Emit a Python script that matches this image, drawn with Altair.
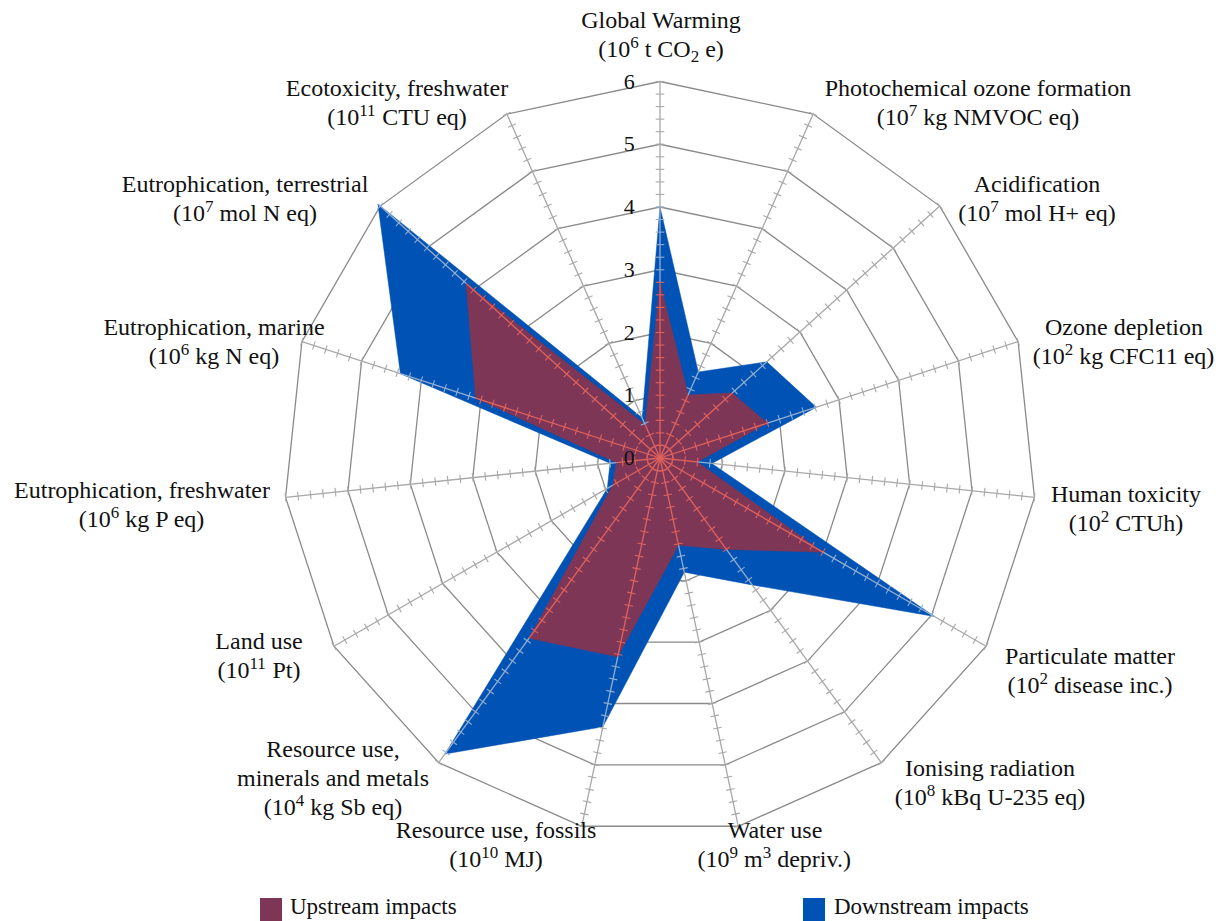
import re
import altair as alt
import pandas as pd

# ---------------- data ----------------
categories = [
    "Global Warming", "Photochemical ozone formation", "Acidification",
    "Ozone depletion", "Human toxicity", "Particulate matter",
    "Ionising radiation", "Water use", "Resource use, fossils",
    "Resource use,\nminerals and metals", "Land use",
    "Eutrophication, freshwater", "Eutrophication, marine",
    "Eutrophication, terrestrial", "Ecotoxicity, freshwater",
]
# ^{..} = superscript, _{..} = subscript
units = [
    "(10^{6} t CO_{2} e)", "(10^{7} kg NMVOC eq)", "(10^{7} mol H+ eq)",
    "(10^{2} kg CFC11 eq)", "(10^{2} CTUh)", "(10^{2} disease inc.)",
    "(10^{8} kBq U-235 eq)", "(10^{9} m^{3} depriv.)", "(10^{10} MJ)",
    "(10^{4} kg Sb eq)", "(10^{11} Pt)", "(10^{6} kg P eq)", "(10^{6} kg N eq)",
    "(10^{7} mol N eq)", "(10^{11} CTU eq)",
]
upstream = [2.8, 1.1, 1.55, 1.8, 0.6, 3.0, 1.8, 1.42, 3.24, 3.55, 0.87, 0.7, 3.09, 4.16, 0.58]
downstream = [4.0, 1.5, 2.29, 2.62, 0.83, 5.05, 2.5, 1.86, 4.38, 5.83, 0.97, 0.8, 4.35, 6.05, 0.7]
ring_values = [1, 2, 3, 4, 5, 6]
tick_labels = ["0", "1", "2", "3", "4", "5", "6"]
series_names = ["Upstream impacts", "Downstream impacts"]

# ---------------- layout ----------------
W, H = 1223, 921
CX, CY = 660, 458          # pixel centre of the radar
S = 62.75                  # pixels per unit
AXIS_MAX = 6
MINOR = 0.2
TICK_HALF = 4.3 / S
LINE_H = 29
FS = 24                    # label font size
FS_SMALL = 17              # super/subscript size
N = len(categories)
idx = list(range(N))

xdom = [(0 - CX) / S, (W - CX) / S]
ydom = [(CY - H) / S, (CY - 0) / S]
XS = alt.Scale(domain=xdom, nice=False, zero=False)
YS = alt.Scale(domain=ydom, nice=False, zero=False)

# label block centres (pixels) - layout only
label_px = [
    (661, 34), (978, 102), (1037, 198), (1124, 341), (1126, 508),
    (1090, 670), (990, 782), (775, 844), (496, 844), (333, 778),
    (259, 655), (142, 504), (214, 341), (245, 198), (397, 102),
]

MAROON = "#7e3657"
BLUE = "#0052b4"
SERIF = "Liberation Serif"

ANG = "datum.i * 2 * PI / %d" % N

# Times / Liberation Serif advance widths (1/1000 em)
TW = {' ': 250, '(': 333, ')': 333, '+': 564, '-': 333, '.': 250,
      'B': 667, 'C': 667, 'F': 556, 'H': 722, 'J': 389, 'M': 889, 'N': 722,
      'O': 722, 'P': 556, 'S': 556, 'T': 611, 'U': 722, 'V': 722,
      'a': 444, 'b': 500, 'c': 444, 'd': 500, 'e': 444, 'g': 500, 'h': 500,
      'i': 278, 'k': 500, 'l': 278, 'm': 778, 'n': 500, 'o': 500, 'p': 500,
      'q': 500, 'r': 333, 's': 389, 't': 278, 'u': 500, 'v': 500}


def text_w(s, size):
    return sum(TW.get(ch, 500) for ch in s) * size / 1000.0


def segments(s):
    out = []
    pos = 0
    for m in re.finditer(r"([\^_])\{([^}]*)\}", s):
        if m.start() > pos:
            out.append((s[pos:m.start()], "n"))
        out.append((m.group(2), "sup" if m.group(1) == "^" else "sub"))
        pos = m.end()
    if pos < len(s):
        out.append((s[pos:], "n"))
    return out

# ---------------- tables ----------------
poly_df = pd.DataFrame({
    "i": idx * 2,
    "v": upstream + downstream,
    "series": ["up"] * N + ["down"] * N,
})

ring_df = pd.DataFrame([(r, i) for r in ring_values for i in idx], columns=["ring", "i"])

seg_rows = []
for i in idx:
    seg_rows.append((i, 0.0, upstream[i], "up"))
    seg_rows.append((i, upstream[i], downstream[i], "down"))
    seg_rows.append((i, min(downstream[i], AXIS_MAX), AXIS_MAX, "out"))
seg_df = pd.DataFrame(seg_rows, columns=["i", "r0", "r1", "zone"])

tick_rows = []
nt = int(round(AXIS_MAX / MINOR))
for i in idx:
    for k in range(1, nt + 1):
        r = k * MINOR
        if r <= upstream[i] + 1e-9:
            z = "up"
        elif r <= downstream[i] + 1e-9:
            z = "down"
        else:
            z = "out"
        tick_rows.append((i, r, z))
tick_df = pd.DataFrame(tick_rows, columns=["i", "r", "zone"])

zone_scale = alt.Scale(domain=["up", "down", "out"], range=["#e0625c", "#93aed0", "#a8a8a8"])

num_df = pd.DataFrame({"v": list(range(len(tick_labels))), "t": tick_labels})

# label rows: category lines centred; unit lines split into segments
cat_rows, unit_rows = [], []
for cat, unit, (cx, cy) in zip(categories, units, label_px):
    lines = cat.split("\n")
    n = len(lines) + 1
    for k in range(n):
        base = cy + (k - (n - 1) / 2) * LINE_H + 8
        if k < len(lines):
            cat_rows.append({"txt": lines[k], "x": (cx - CX) / S, "y": (CY - base) / S})
        else:
            segs = segments(unit)
            widths = [text_w(t, FS if kind == "n" else FS_SMALL) for t, kind in segs]
            x0 = cx - sum(widths) / 2
            for (t, kind), w in zip(segs, widths):
                if kind == "n":
                    b, fs = base, FS
                elif kind == "sup":
                    b, fs = base - 9, FS_SMALL
                else:
                    b, fs = base + 5, FS_SMALL
                lead = len(t) - len(t.lstrip(" "))
                shown = t.strip(" ")
                xs = x0 + text_w(" " * lead, fs)
                if shown:
                    unit_rows.append({"txt": shown, "x": (xs - CX) / S,
                                      "y": (CY - b) / S, "fs": fs})
                x0 += w
cat_df = pd.DataFrame(cat_rows)
unit_df = pd.DataFrame(unit_rows)

# ---------------- layers ----------------
rings = alt.Chart(ring_df).transform_calculate(
    x="datum.ring * sin(%s)" % ANG, y="datum.ring * cos(%s)" % ANG
).mark_line(interpolate="linear-closed", stroke="#8a8a8a", strokeWidth=1.3).encode(
    x=alt.X("x:Q", scale=XS, axis=None),
    y=alt.Y("y:Q", scale=YS, axis=None),
    detail="ring:N",
    order="i:Q",
)


def polygon(series, color):
    return alt.Chart(poly_df).transform_filter(
        alt.datum.series == series
    ).transform_calculate(
        x="datum.v * sin(%s)" % ANG, y="datum.v * cos(%s)" % ANG
    ).mark_line(interpolate="linear-closed", fill=color, fillOpacity=1,
                stroke=color, strokeWidth=0.5).encode(
        x=alt.X("x:Q", scale=XS, axis=None),
        y=alt.Y("y:Q", scale=YS, axis=None),
        order="i:Q",
    )


blue_poly = polygon("down", BLUE)
maroon_poly = polygon("up", MAROON)

spokes = alt.Chart(seg_df).transform_calculate(
    x="datum.r0 * sin(%s)" % ANG, y="datum.r0 * cos(%s)" % ANG,
    x2="datum.r1 * sin(%s)" % ANG, y2="datum.r1 * cos(%s)" % ANG,
).mark_rule(strokeWidth=1.3).encode(
    x=alt.X("x:Q", scale=XS, axis=None),
    y=alt.Y("y:Q", scale=YS, axis=None),
    x2="x2:Q", y2="y2:Q",
    color=alt.Color("zone:N", scale=zone_scale, legend=None),
)

ticks = alt.Chart(tick_df).transform_calculate(
    a=ANG
).transform_calculate(
    x="datum.r * sin(datum.a) + %f * cos(datum.a)" % TICK_HALF,
    y="datum.r * cos(datum.a) - %f * sin(datum.a)" % TICK_HALF,
    x2="datum.r * sin(datum.a) - %f * cos(datum.a)" % TICK_HALF,
    y2="datum.r * cos(datum.a) + %f * sin(datum.a)" % TICK_HALF,
).mark_rule(strokeWidth=1.1).encode(
    x=alt.X("x:Q", scale=XS, axis=None),
    y=alt.Y("y:Q", scale=YS, axis=None),
    x2="x2:Q", y2="y2:Q",
    color=alt.Color("zone:N", scale=zone_scale, legend=None),
)

numbers = alt.Chart(num_df).transform_calculate(
    x="-0.49"
).mark_text(font=SERIF, fontSize=22, align="center", baseline="middle", color="#111111").encode(
    x=alt.X("x:Q", scale=XS, axis=None),
    y=alt.Y("v:Q", scale=YS, axis=None),
    text="t:N",
)

cat_labels = alt.Chart(cat_df).mark_text(
    font=SERIF, fontSize=FS, align="center", baseline="alphabetic", color="#111111"
).encode(
    x=alt.X("x:Q", scale=XS, axis=None),
    y=alt.Y("y:Q", scale=YS, axis=None),
    text="txt:N",
)

unit_labels = alt.Chart(unit_df).mark_text(
    font=SERIF, align="left", baseline="alphabetic", color="#111111"
).encode(
    x=alt.X("x:Q", scale=XS, axis=None),
    y=alt.Y("y:Q", scale=YS, axis=None),
    size=alt.Size("fs:Q", scale=None, legend=None),
    text="txt:N",
)

# legend (manual, bottom)
leg_sq_up = alt.Chart(num_df.head(1)).mark_rect(color=MAROON).encode(
    x=alt.value(260), x2=alt.value(282), y=alt.value(898), y2=alt.value(921))
leg_sq_down = alt.Chart(num_df.head(1)).mark_rect(color=BLUE).encode(
    x=alt.value(803), x2=alt.value(825), y=alt.value(898), y2=alt.value(921))
leg_txt_up = alt.Chart(num_df.head(1)).mark_text(
    font=SERIF, fontSize=23, align="left", baseline="alphabetic", color="#111111"
).encode(x=alt.value(290), y=alt.value(914), text=alt.value(series_names[0]))
leg_txt_down = alt.Chart(num_df.head(1)).mark_text(
    font=SERIF, fontSize=23, align="left", baseline="alphabetic", color="#111111"
).encode(x=alt.value(834), y=alt.value(914), text=alt.value(series_names[1]))

chart = alt.layer(
    rings, blue_poly, maroon_poly, spokes, ticks, numbers, cat_labels, unit_labels,
    leg_sq_up, leg_sq_down, leg_txt_up, leg_txt_down,
).properties(
    width=W, height=H,
    autosize=alt.AutoSizeParams(type="none"),
    padding=0,
    background="white",
).configure_view(stroke=None)

chart.save("out.html", embed_options={"renderer": "svg", "actions": False})
